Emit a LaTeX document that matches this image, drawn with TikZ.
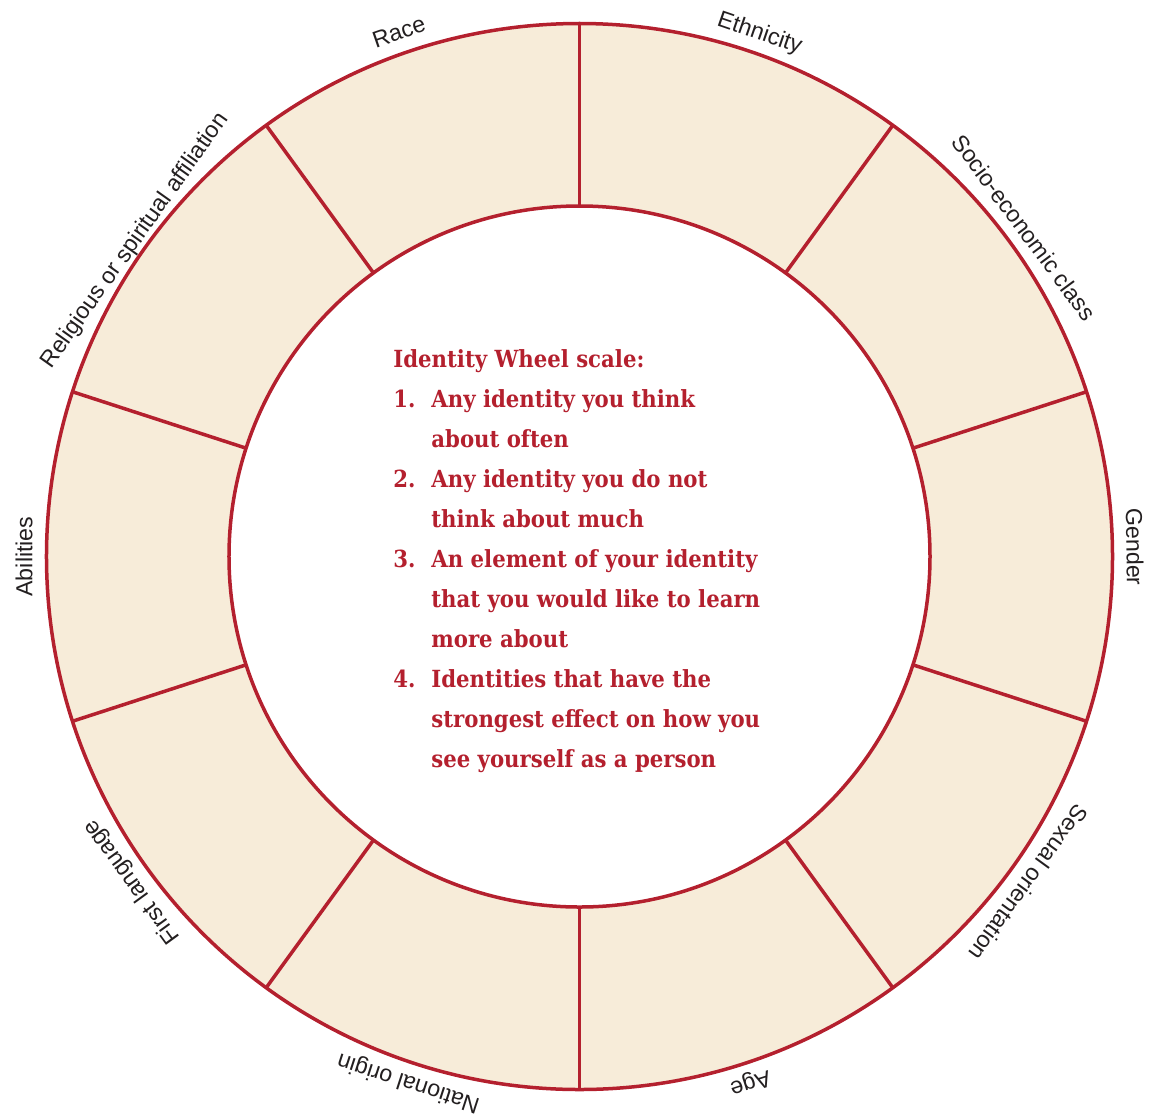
\documentclass[tikz,border=0pt]{standalone}
\usepackage{fontspec}
\setmainfont{Liberation Sans}
\newfontfamily\scaleserif{DejaVu Serif Condensed}
\definecolor{wheelred}{HTML}{B4202E}
\definecolor{wheelfill}{HTML}{F7ECD9}
\definecolor{labelink}{HTML}{231F20}
\begin{document}
\begin{tikzpicture}[x=0.5pt,y=0.5pt,
  rim/.style={draw=wheelred,line width=1.75pt},
  seglabel/.style={font=\fontsize{11.6}{13}\selectfont, text=labelink, anchor=base, inner sep=0pt},
  scaletext/.style={font=\scaleserif\bfseries\fontsize{11.8}{14}\selectfont, text=wheelred, anchor=base west, inner sep=0pt}]
\useasboundingbox (-579.5,-558.5) rectangle (574.5,556.5);
% ring of ten segments
\fill[wheelfill, even odd rule] (0,0) circle (533) (0,0) circle (350.5);
\foreach \a in {90,126,...,414} \draw[rim] (\a:350.5) -- (\a:533);
\draw[rim] (0,0) circle (533);
\draw[rim] (0,0) circle (350.5);
% segment labels, set along the rim
\foreach \ang/\rad/\txt/\nm in {109/547/Race/race, 71/547/Ethnicity/ethnicity,
  36.5/545/Socio-economic class/socio, 1/547/Gender/gender, -36/547/Sexual orientation/sexual,
  -72/547/Age/age, -108/547/National origin/national, -144/547/First language/language,
  180/547/Abilities/abilities, 144.6/539/Religious or spiritual affiliation/religion}
  \node[seglabel, rotate=\ang-90] (\nm) at (\ang:\rad) {\txt};
% scale text in the middle
\node[scaletext] (title) at (-186.5,189.5) {Identity Wheel scale:};
\foreach \i/\y in {1/149.5, 2/69.5, 3/-10.5, 4/-130.5}
  \node[scaletext] (num\i) at (-186.5,\y) {\i.};
\node[scaletext] (l1) at (-148.5,149.5) {Any identity you think};
\node[scaletext] (l2) at (-148.5,109.5) {about often};
\node[scaletext] (l3) at (-148.5,69.5) {Any identity you do not};
\node[scaletext] (l4) at (-148.5,29.5) {think about much};
\node[scaletext] (l5) at (-148.5,-10.5) {An element of your identity};
\node[scaletext] (l6) at (-148.5,-50.5) {that you would like to learn};
\node[scaletext] (l7) at (-148.5,-90.5) {more about};
\node[scaletext] (l8) at (-148.5,-130.5) {Identities that have the};
\node[scaletext] (l9) at (-148.5,-170.5) {strongest effect on how you};
\node[scaletext] (l10) at (-148.5,-210.5) {see yourself as a person};
\end{tikzpicture}
\end{document}
